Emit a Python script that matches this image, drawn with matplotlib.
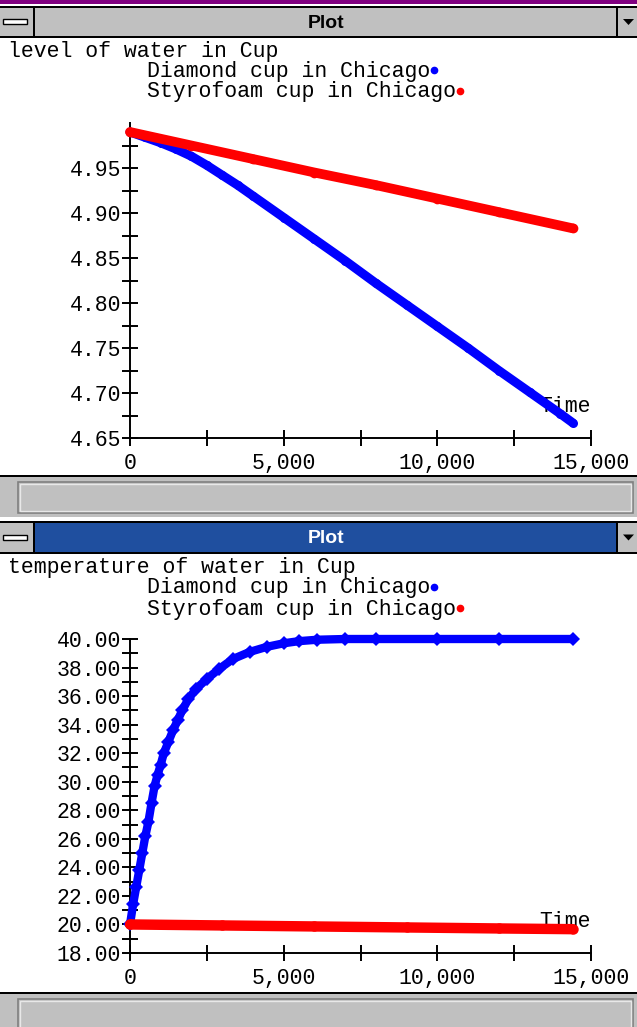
import matplotlib
matplotlib.use("Agg")
import matplotlib.pyplot as plt
from matplotlib.patches import Rectangle, Polygon
from matplotlib.lines import Line2D
from matplotlib.ticker import FuncFormatter

W, H = 637, 1027

# --- level of water in cup ---
level_time_diamond = [0, 500, 1000, 1500, 2000, 2500, 3000, 3500, 4000, 5000,
                      6000, 7000, 8000, 9000, 10000, 11000, 12000, 13000, 14000, 14400]
level_diamond = [4.990, 4.984, 4.978, 4.971, 4.963, 4.953, 4.942, 4.931, 4.919, 4.895,
                 4.871, 4.847, 4.822, 4.798, 4.774, 4.750, 4.725, 4.701, 4.677, 4.667]
level_time_styro = [0, 2000, 4000, 6000, 8000, 10000, 12000, 14400]
level_styro = [4.990, 4.975, 4.960, 4.945, 4.931, 4.916, 4.901, 4.883]

# --- temperature of water in cup ---
temp_time_diamond = [0, 100, 200, 300, 400, 500, 600, 700, 800, 900, 1000, 1100,
                     1250, 1400, 1550, 1700, 1900, 2150, 2500, 2900, 3350, 3900,
                     4450, 5000, 5500, 6100, 7000, 8000, 10000, 12000, 14400]
temp_diamond = [20.0, 21.4, 22.6, 23.8, 25.0, 26.2, 27.2, 28.5, 29.7, 30.5, 31.2, 32.0,
                32.8, 33.6, 34.3, 35.0, 35.8, 36.5, 37.2, 37.9, 38.6, 39.1,
                39.45, 39.7, 39.85, 39.95, 40.0, 40.0, 40.0, 40.0, 40.0]
temp_time_styro = [0, 3000, 6000, 9000, 12000, 14400]
temp_styro = [20.0, 19.93, 19.86, 19.79, 19.72, 19.67]

series_names = ["Diamond cup in Chicago", "Styrofoam cup in Chicago"]
series_colors = ["#0000ff", "#ff0000"]

MONO = ["Liberation Mono", "DejaVu Sans Mono"]
FS = 15.5
GRAY = "#c0c0c0"

fig = plt.figure(figsize=(W / 100, H / 100), dpi=100)
fig.patch.set_facecolor("white")


def rect(x0, y0, x1, y1, color, **kw):
    fig.patches.append(Rectangle((x0 / W, 1 - y1 / H), (x1 - x0) / W, (y1 - y0) / H,
                                 transform=fig.transFigure, facecolor=color,
                                 edgecolor=kw.pop("edgecolor", "none"), **kw))


def ftext(x, y, s, **kw):
    return fig.text(x / W, 1 - y / H, s, **kw)


def title_bar(y0, y1, fill, txt_color):
    rect(0, y0, W, y1, fill)
    rect(0, y0, 33, y1, GRAY)
    rect(33, y0, 35, y1, "black")
    rect(617, y0, W, y1, GRAY)
    rect(616, y0, 618, y1, "black")
    rect(0, y0 - 1, W, y0 + 1, "black")
    rect(0, y1 - 1, W, y1 + 1, "black")
    ym = (y0 + y1) / 2
    rect(3, ym - 3, 27, ym + 2, "white", edgecolor="black", linewidth=1.0)
    tri = [(623 / W, 1 - (ym - 3) / H), (634 / W, 1 - (ym - 3) / H), (628.5 / W, 1 - (ym + 3) / H)]
    fig.patches.append(Polygon(tri, closed=True, transform=fig.transFigure,
                               facecolor="black", edgecolor="none"))
    ftext(326, ym + 1, "Plot", ha="center", va="center", color=txt_color,
          fontsize=14, fontweight="bold", family=["Liberation Sans", "DejaVu Sans"])


def status_bar(y0, y1):
    rect(0, y0 - 2, W, y0, "black")
    rect(0, y0, W, y1, GRAY)
    rect(18, y0 + 5, 633, y1 - 4, GRAY, edgecolor="#808080", linewidth=1.2)
    rect(20, y0 + 7, 631, y1 - 6, GRAY, edgecolor="#e8e8e8", linewidth=1.0)


# window chrome
rect(0, 0, W, 4, "#800080")
title_bar(7, 37, GRAY, "black")
status_bar(477, 517)
title_bar(522, 553, "#1f4f9f", "white")
status_bar(994, 1040)


def legend_block(y_title, title):
    ftext(8, y_title + 1, title, ha="left", va="center", family=MONO, fontsize=FS)
    renderer = fig.canvas.get_renderer()
    for i, (name, col) in enumerate(zip(series_names, series_colors)):
        yy = y_title + 21 * (i + 1)
        t = ftext(147, yy, name, ha="left", va="center", family=MONO, fontsize=FS)
        bb = t.get_window_extent(renderer)
        fig.add_artist(Line2D([(bb.x1 + 4) / W], [1 - (yy - 1) / H], marker="o",
                              markersize=4.5, color=col, linestyle="none",
                              transform=fig.transFigure))


def style_axes(ax, ymin, ymax, yticks, yminor):
    ax.set_xlim(0, 15000)
    ax.set_ylim(ymin, ymax)
    ax.set_facecolor("none")
    for s in ("top", "right"):
        ax.spines[s].set_visible(False)
    for s in ("left", "bottom"):
        ax.spines[s].set_linewidth(1.4)
    ax.set_xticks([0, 5000, 10000, 15000])
    ax.set_xticks([2500, 7500, 12500], minor=True)
    ax.set_yticks(yticks)
    ax.set_yticks(yminor, minor=True)
    ax.xaxis.set_major_formatter(FuncFormatter(lambda v, p: f"{v:,.0f}"))
    ax.yaxis.set_major_formatter(FuncFormatter(lambda v, p: f"{v:.2f}"))
    ax.tick_params(which="both", direction="inout", length=11, width=1.4, color="black")
    ax.tick_params(axis="y", pad=1, labelsize=FS)
    ax.tick_params(axis="x", pad=5, labelsize=FS)
    for lab in ax.get_xticklabels() + ax.get_yticklabels():
        lab.set_family(MONO)
    ax.text(1.0, 0.10, "Time", transform=ax.transAxes, ha="right", va="center",
            family=MONO, fontsize=FS, zorder=1)


def ax_at(x0, y0, x1, y1):
    return fig.add_axes([x0 / W, 1 - y1 / H, (x1 - x0) / W, (y1 - y0) / H])


# upper plot: level of water
legend_block(50, "level of water in Cup")
ax1 = ax_at(130, 123, 591, 438)
style_axes(ax1, 4.65, 5.0,
           [4.65, 4.70, 4.75, 4.80, 4.85, 4.90, 4.95],
           [4.675, 4.725, 4.775, 4.825, 4.875, 4.925, 4.975])
ax1.plot(level_time_styro, level_styro, color=series_colors[1], lw=7, marker="o", ms=7, mew=0,
         solid_capstyle="round", solid_joinstyle="round", clip_on=False, zorder=3)
ax1.plot(level_time_diamond, level_diamond, color=series_colors[0], lw=6.5, marker="o", ms=6.5,
         mew=0, solid_capstyle="round", solid_joinstyle="round", clip_on=False, zorder=2.8)

# lower plot: temperature of water
legend_block(567, "temperature of water in Cup")
ax2 = ax_at(130, 639, 591, 953)
ax2.plot(temp_time_diamond, temp_diamond, color=series_colors[0], lw=6, marker="D", ms=7,
         mew=0, solid_capstyle="round", solid_joinstyle="round", clip_on=False, zorder=3)
ax2.plot(temp_time_styro, temp_styro, color=series_colors[1], lw=7.5, marker="o", ms=7.5,
         mew=0, solid_capstyle="round", clip_on=False, zorder=3.2)
style_axes(ax2, 18, 40,
           [18, 20, 22, 24, 26, 28, 30, 32, 34, 36, 38, 40],
           [19, 21, 23, 25, 27, 29, 31, 33, 35, 37, 39])

fig.savefig("out.png", dpi=100, facecolor="white")
